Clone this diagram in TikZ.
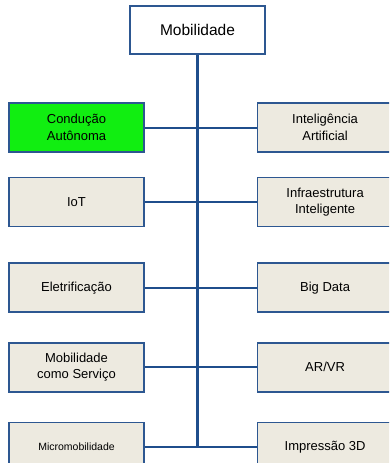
\documentclass[tikz,border=0pt]{standalone}
\usepackage{fontspec}
\setmainfont{Liberation Sans}
\usepackage{xcolor}
\usepackage{tikz}
\usetikzlibrary{positioning}
\definecolor{MB_LINE}{HTML}{1F4E8C}
\definecolor{MB_EDGE}{HTML}{2D5791}
\definecolor{MB_BEIGE}{HTML}{EDEAE0}
\definecolor{MB_GREEN}{HTML}{11EE11}
\tikzset{
  topbox/.style={
    rectangle, minimum width=135pt, minimum height=48pt,
    text centered, align=center, line width=1.6pt,
    draw=MB_EDGE, fill=white, font=\fontsize{15.5}{18}\selectfont},
  area/.style={
    rectangle, minimum width=135pt, minimum height=49pt,
    text centered, align=center, line width=1.6pt,
    draw=MB_EDGE, fill=MB_BEIGE, font=\fontsize{13}{16.5}\selectfont},
  hot/.style={area, fill=MB_GREEN},
  trunk/.style={line width=3pt, color=MB_LINE},
  branch/.style={line width=2pt, color=MB_LINE},
}
\begin{document}
\begin{tikzpicture}[x=1pt, y=-1pt]

  \path[use as bounding box, clip] (0,0) rectangle (389,463);

  \node[topbox] (root) at (197.5,30) {Mobilidade};

  % left column
  \node[hot]  (l1) at (76.5,127.5) {Condução\\Autônoma};
  \node[area, below=24pt of l1] (l2) {IoT};
  \node[area, below=35pt of l2] (l3) {Eletrificação};
  \node[area, below=29pt of l3] (l4) {Mobilidade\\como Serviço};
  \node[area, below=29pt of l4, font=\fontsize{10.5}{13}\selectfont] (l5)
    {Micromobilidade};

  % right column
  \node[area, right=112pt of l1] (r1) {Inteligência\\Artificial};
  \node[area, right=112pt of l2] (r2) {Infraestrutura\\Inteligente};
  \node[area, right=112pt of l3] (r3) {Big Data};
  \node[area, right=112pt of l4] (r4) {AR/VR};
  \node[area, right=112pt of l5] (r5) {Impressão 3D};

  \coordinate (foot) at (root.south |- l5);

  \foreach \i in {1,...,5}
    \draw[branch] (l\i) -- (r\i);
  \draw[trunk] (root.south) -- (foot);

\end{tikzpicture}
\end{document}
